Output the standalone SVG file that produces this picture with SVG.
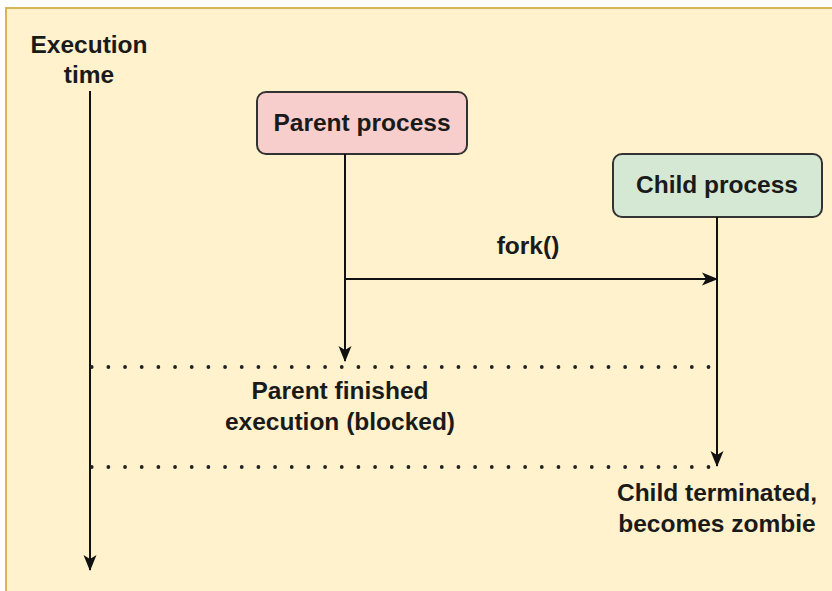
<svg xmlns="http://www.w3.org/2000/svg" width="832" height="591" viewBox="0 0 832 591">
<style>
text{font-family:"Liberation Sans",Arial,sans-serif;font-weight:bold;font-size:24.5px;fill:#1a1a1a;text-anchor:middle}
.line{stroke:#111;stroke-width:2;fill:none}
.dot{stroke:#222;stroke-width:3.8;stroke-linecap:round;stroke-dasharray:0 16.67;fill:none}
.box{stroke:#333;stroke-width:2}
</style>
<defs>
<marker id="arr" markerUnits="userSpaceOnUse" markerWidth="18" markerHeight="16" viewBox="0 0 18 16" refX="16" refY="8" orient="auto">
<path d="M1,1.5 L17,8 L1,14.5 L5,8 Z" fill="#111"/>
</marker>
</defs>
<rect x="0" y="0" width="832" height="591" fill="#ffffff"/>
<rect x="6" y="8" width="836" height="600" fill="#fff2cc" stroke="#d6b656" stroke-width="2"/>
<g id="execution-time">
<text x="89" y="53">Execution</text>
<text x="89" y="83">time</text>
</g>
<g id="parent">
<rect class="box" x="257" y="92" width="210" height="62" rx="9" fill="#f8cecc"/>
<text x="362" y="131">Parent process</text>
</g>
<g id="child">
<rect class="box" x="613" y="154" width="209" height="63" rx="9" fill="#d5e8d4"/>
<text x="717" y="193">Child process</text>
</g>
<g id="connectors">
<line class="line" x1="90" y1="91" x2="90" y2="570" marker-end="url(#arr)"/>
<line class="line" x1="345" y1="154" x2="345" y2="361" marker-end="url(#arr)"/>
<line class="line" x1="717" y1="217" x2="717" y2="466" marker-end="url(#arr)"/>
<line class="line" x1="345" y1="279" x2="717" y2="279" marker-end="url(#arr)"/>
<line class="dot" x1="91.7" y1="367" x2="716" y2="367"/>
<line class="dot" x1="91.7" y1="467" x2="716" y2="467"/>
</g>
<g id="labels">
<text x="528" y="254">fork()</text>
<text x="340" y="399">Parent finished</text>
<text x="340" y="430">execution (blocked)</text>
<text x="717" y="501">Child terminated,</text>
<text x="717" y="532">becomes zombie</text>
</g>
</svg>
